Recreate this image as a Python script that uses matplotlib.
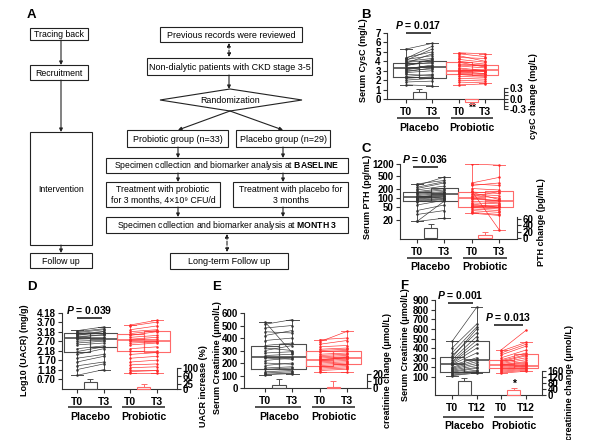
import matplotlib.pyplot as plt
from matplotlib import transforms
from matplotlib.patches import Rectangle, Polygon
from matplotlib.ticker import NullLocator, MultipleLocator

plt.rcParams['font.family'] = ['Liberation Sans', 'DejaVu Sans']
plt.rcParams['font.weight'] = 'bold'
plt.rcParams['mathtext.fontset'] = 'custom'
plt.rcParams['mathtext.rm'] = 'Liberation Sans'
plt.rcParams['mathtext.it'] = 'Liberation Sans:italic:bold'
plt.rcParams['mathtext.bf'] = 'Liberation Sans:bold'

# ---------------- data ----------------
groups = ['Placebo', 'Probiotic']

# B: serum CysC (mg/L)
cysc_placebo_t0 = [5.3, 4.4, 4.3, 4.2, 4.0, 3.9, 3.8, 3.6, 3.5, 3.3, 3.2, 3.1, 3.0, 2.8, 2.6, 2.4, 2.3, 2.2, 2.0, 1.8, 1.5, 4.1, 3.7, 2.9]
cysc_placebo_t3 = [5.9, 5.0, 5.6, 4.6, 4.3, 4.1, 4.8, 3.9, 4.2, 3.4, 3.6, 3.5, 3.2, 3.0, 2.5, 2.6, 2.3, 2.35, 2.2, 1.9, 1.4, 5.3, 3.8, 3.3]
cysc_probiotic_t0 = [4.9, 4.8, 4.6, 4.4, 4.2, 4.0, 3.9, 3.7, 3.5, 3.3, 3.1, 3.0, 2.95, 2.9, 2.8, 2.7, 2.6, 2.4, 2.2, 2.0, 1.8, 1.5, 3.6, 3.2]
cysc_probiotic_t3 = [4.8, 4.5, 4.0, 4.3, 3.9, 3.7, 3.4, 3.6, 3.3, 3.0, 3.1, 2.9, 3.0, 2.7, 2.7, 2.6, 2.4, 2.3, 2.1, 1.9, 1.7, 1.6, 3.5, 2.9]
cysc_box_lo = [1.5, 1.4, 1.5, 1.7]
cysc_box_q1 = [2.33, 2.19, 2.65, 2.5]
cysc_box_med = [3.25, 3.43, 2.97, 3.07]
cysc_box_q3 = [3.82, 4.06, 3.92, 3.6]
cysc_box_hi = [5.27, 5.97, 4.9, 4.8]
cysc_change = [0.2, -0.1]
cysc_change_sem = [0.07, 0.07]

# C: serum PTH (pg/mL)
pth_placebo_t0 = [280, 250, 200, 180, 160, 150, 140, 130, 120, 110, 105, 100, 95, 90, 85, 80, 75, 60, 40, 30, 18, 18, 220, 115]
pth_placebo_t3 = [360, 460, 300, 240, 200, 180, 160, 150, 140, 130, 125, 120, 115, 110, 100, 95, 90, 85, 60, 40, 80, 23, 330, 100]
pth_probiotic_t0 = [1200, 300, 280, 250, 200, 170, 155, 150, 130, 120, 100, 90, 80, 70, 60, 55, 52, 50, 45, 40, 35, 33, 110, 65]
pth_probiotic_t3 = [1100, 450, 250, 300, 180, 10, 140, 90, 120, 100, 80, 85, 70, 65, 60, 50, 55, 45, 40, 35, 30, 28, 160, 50]
pth_box_lo = [18, 23, 33, 10]
pth_box_q1 = [80, 80, 52, 52]
pth_box_med = [107, 133, 100, 80]
pth_box_q3 = [155, 210, 155, 165]
pth_box_hi = [280, 460, 1200, 1100]
pth_change = [32, 8]
pth_change_sem = [12, 11]

# D: log10 UACR (mg/g)
uacr_placebo_t0 = [3.25, 3.2, 3.15, 3.1, 3.05, 3.0, 2.95, 2.9, 2.85, 2.8, 2.7, 2.6, 2.5, 2.3, 2.15, 2.0, 1.8, 1.6, 1.4, 1.2, 0.9]
uacr_placebo_t3 = [3.45, 3.35, 3.3, 3.2, 3.1, 3.2, 3.0, 3.05, 2.9, 2.85, 2.75, 2.7, 2.6, 2.45, 2.4, 2.3, 2.0, 1.9, 1.6, 1.5, 1.2]
uacr_probiotic_t0 = [3.55, 3.5, 3.3, 3.2, 3.1, 3.0, 2.9, 2.8, 2.75, 2.7, 2.6, 2.5, 2.3, 2.2, 2.0, 1.8, 1.6, 1.45, 1.3, 1.2, 1.1, 1.0]
uacr_probiotic_t3 = [3.8, 3.7, 3.5, 3.3, 3.25, 3.2, 3.0, 2.9, 2.8, 2.7, 2.65, 2.6, 2.4, 2.2, 2.1, 1.9, 1.7, 1.5, 1.35, 1.2, 1.15, 1.0]
uacr_box_lo = [0.91, 1.17, 1.0, 1.0]
uacr_box_q1 = [2.12, 2.39, 2.18, 2.12]
uacr_box_med = [2.86, 2.81, 2.75, 2.71]
uacr_box_q3 = [3.12, 3.12, 3.1, 3.23]
uacr_box_hi = [3.3, 3.44, 3.55, 3.81]
uacr_change = [33, 10]
uacr_change_sem = [15, 14]

# E: serum creatinine (umol/L), T0 vs T3
scr_placebo_t0 = [528, 510, 480, 450, 420, 380, 340, 320, 300, 280, 260, 250, 240, 220, 200, 180, 160, 150, 130, 120, 110, 107]
scr_placebo_t3 = [280, 547, 500, 440, 460, 400, 360, 300, 340, 290, 270, 250, 230, 240, 190, 200, 170, 160, 140, 130, 120, 115]
scr_probiotic_t0 = [387, 370, 350, 330, 310, 300, 290, 270, 260, 250, 240, 230, 225, 220, 210, 200, 190, 180, 170, 160, 150, 140, 128]
scr_probiotic_t3 = [400, 453, 380, 340, 320, 310, 300, 280, 270, 260, 250, 240, 245, 230, 220, 210, 200, 190, 180, 170, 160, 150, 128]
scr_box_lo = [107, 115, 128, 128]
scr_box_q1 = [150, 155, 180, 190]
scr_box_med = [250, 250, 225, 240]
scr_box_q3 = [335, 350, 300, 295]
scr_box_hi = [528, 547, 387, 453]
scr_change = [4, 2]
scr_change_sem = [9, 8]

# F: serum creatinine (umol/L), T0 vs T12
scr12_placebo_t0 = [469, 400, 350, 320, 300, 280, 260, 250, 240, 230, 220, 200, 190, 180, 170, 160, 150, 140, 130, 120, 114]
scr12_placebo_t12 = [824, 650, 620, 560, 600, 520, 480, 440, 400, 350, 300, 280, 260, 240, 220, 200, 190, 170, 160, 150, 141]
scr12_probiotic_t0 = [383, 370, 350, 330, 300, 280, 270, 260, 250, 240, 230, 225, 220, 210, 200, 190, 180, 170, 160, 150, 141]
scr12_probiotic_t12 = [585, 459, 440, 420, 380, 350, 330, 320, 300, 280, 260, 250, 240, 230, 220, 210, 200, 190, 180, 170, 159]
scr12_box_lo = [114, 141, 141, 159]
scr12_box_q1 = [155, 155, 193, 193]
scr12_box_med = [238, 279, 228, 217]
scr12_box_q3 = [303, 469, 279, 338]
scr12_box_hi = [469, 824, 383, 459]
scr12_change = [95, 36]
scr12_change_sem = [18, 11]

BLACK_LINE = '#333333'
BLACK_BOX = '#4d4d4d'
RED_LINE = '#ff2a2a'
RED_BOX = '#ff6a6a'
AXC = '#333333'

W, H = 600, 440
fig = plt.figure(figsize=(6, 4.4), dpi=100)
ov = fig.add_axes([0, 0, 1, 1])
ov.set_xlim(0, W)
ov.set_ylim(H, 0)
ov.axis('off')


def rect_px(x0, x1, ytop, ybot):
    return [x0 / W, 1 - ybot / H, (x1 - x0) / W, (ybot - ytop) / H]


# ---------------- A: flowchart ----------------
def fbox(x0, y0, x1, y1, text, size=6.3):
    ov.add_patch(Rectangle((x0, y0), x1 - x0, y1 - y0, fill=False, lw=0.8, ec='#222222'))
    ov.text((x0 + x1) / 2, (y0 + y1) / 2 + 0.5, text, ha='center', va='center',
            fontsize=size, fontweight='normal', linespacing=1.15)


def farrow(x0, y0, x1, y1, dashed=False):
    style = '<|-|>' if dashed else '-|>'
    ov.annotate('', xy=(x1, y1), xytext=(x0, y0),
                arrowprops=dict(arrowstyle=style, lw=0.8, color='#222222',
                                linestyle='--' if dashed else '-',
                                mutation_scale=5, shrinkA=0, shrinkB=0))


fbox(30, 28, 88, 40, 'Tracing back')
fbox(30, 65, 88, 80, 'Recruitment')
fbox(30, 132, 92, 245, 'Intervention')
fbox(30, 253, 92, 268, 'Follow up')
farrow(61, 40, 61, 65)
farrow(61, 80, 61, 132)
farrow(61, 245, 61, 253)

fbox(160, 27, 302, 42, 'Previous records were reviewed', 6.5)
farrow(229, 43, 229, 57, dashed=True)
fbox(147, 58, 312, 75, 'Non-dialytic patients with CKD stage 3-5', 6.5)
farrow(229, 75, 229, 89)
ov.add_patch(Polygon([(160, 100), (230, 89), (302, 100), (230, 111)], closed=True,
                     fill=False, lw=0.8, ec='#222222'))
ov.text(230, 100.5, 'Randomization', ha='center', va='center', fontsize=6.4, fontweight='normal')
farrow(230, 111, 178, 130)
farrow(230, 111, 283, 130)
fbox(127, 130, 228, 147, 'Probiotic group (n=33)', 6.5)
fbox(236, 130, 330, 147, 'Placebo group (n=29)', 6.5)
farrow(178, 147, 178, 158)
farrow(283, 147, 283, 158)
fbox(106, 158, 348, 173, r'Specimen collection and biomarker analysis at $\mathbf{BASELINE}$', 6.2)
farrow(178, 173, 178, 182)
farrow(283, 173, 283, 182)
fbox(106, 182, 220, 207, 'Treatment with probiotic\nfor 3 months, 4×10⁹ CFU/d')
fbox(233, 182, 348, 207, 'Treatment with placebo for\n3 months')
farrow(178, 207, 178, 217)
farrow(283, 207, 283, 217)
fbox(106, 217, 348, 233, r'Specimen collection and biomarker analysis at $\mathbf{MONTH\ 3}$', 6.2)
farrow(227, 234, 227, 252, dashed=True)
fbox(170, 253, 288, 269, 'Long-term Follow up', 6.5)


# ---------------- panels B-F ----------------
def draw_panel(px, xlim, ylim, yticks, ytick_labels, pairs, box, tlabel,
               change_px, change_ylim, change_ticks, change, change_sem,
               under_y, group_y, log=False):
    ax = fig.add_axes(rect_px(*px))
    ax.patch.set_visible(False)
    if log:
        ax.set_yscale('log')
    ax.set_xlim(*xlim)
    ax.set_ylim(*ylim)
    pos = [0, 1, 2, 3]

    lo, q1, med, q3, hi = box
    stats = [dict(med=med[i], q1=q1[i], q3=q3[i], whislo=lo[i], whishi=hi[i]) for i in range(4)]
    bp = ax.bxp(stats, positions=pos, widths=1.0, showfliers=False, capwidths=0.45,
                manage_ticks=False)
    for i in range(4):
        c = BLACK_BOX if i < 2 else RED_BOX
        bp['boxes'][i].set(color=c, lw=0.8)
        bp['medians'][i].set(color=c, lw=1.2)
        for j in (2 * i, 2 * i + 1):
            bp['whiskers'][j].set(color=c, lw=0.7)
            bp['caps'][j].set(color=c, lw=0.7)

    (p0, p1), (r0, r1) = pairs
    for a, b in zip(p0, p1):
        ax.plot([0, 1], [a, b], color=BLACK_LINE, lw=0.45, marker='.', ms=1.6, zorder=3)
    for a, b in zip(r0, r1):
        ax.plot([2, 3], [a, b], color=RED_LINE, lw=0.45, marker='.', ms=1.6, zorder=3)

    ax.set_yticks(yticks)
    ax.set_yticklabels(ytick_labels)
    ax.yaxis.set_minor_locator(NullLocator())
    ax.set_xticks(pos)
    ax.set_xticklabels(['T0', tlabel, 'T0', tlabel], fontsize=7.5)
    ax.tick_params(axis='both', length=3, width=0.8, color=AXC, labelsize=7, pad=1.5)
    ax.tick_params(axis='x', pad=3, labelsize=7.5)
    for s in ('top', 'right'):
        ax.spines[s].set_visible(False)
    for s in ('left', 'bottom'):
        ax.spines[s].set_color(AXC)
        ax.spines[s].set_linewidth(0.8)

    # inset change axis on the right
    cax = fig.add_axes(rect_px(px[0], px[1], change_px[0], change_px[1]))
    cax.patch.set_visible(False)
    cax.set_xlim(*xlim)
    cax.set_ylim(*change_ylim)
    for s in ('top', 'left', 'bottom'):
        cax.spines[s].set_visible(False)
    cax.spines['right'].set_color(AXC)
    cax.spines['right'].set_linewidth(0.8)
    cax.set_xticks([])
    cax.yaxis.tick_right()
    cax.set_yticks(change_ticks)
    cax.tick_params(axis='y', length=3, width=0.8, color=AXC, labelsize=7, pad=1)
    lower = [e if m < 0 else 0 for m, e in zip(change, change_sem)]
    upper = [0 if m < 0 else e for m, e in zip(change, change_sem)]
    cax.bar([0.5, 2.5], change, width=0.5, fill=False, edgecolor=[BLACK_BOX, RED_BOX],
            lw=0.8, clip_on=False)
    cax.errorbar([0.5], [change[0]], yerr=[[lower[0]], [upper[0]]], fmt='none',
                 ecolor=BLACK_BOX, elinewidth=0.7, capsize=2, capthick=0.7, clip_on=False)
    cax.errorbar([2.5], [change[1]], yerr=[[lower[1]], [upper[1]]], fmt='none',
                 ecolor=RED_BOX, elinewidth=0.7, capsize=2, capthick=0.7, clip_on=False)

    # group underline and names below the axis
    trans = transforms.blended_transform_factory(ax.transData, ov.transData)
    ov.plot([-0.35, 1.3], [under_y, under_y], color='#444444', lw=1.3, transform=trans,
            solid_capstyle='butt')
    ov.plot([1.7, 3.3], [under_y, under_y], color='#444444', lw=1.3, transform=trans,
            solid_capstyle='butt')
    ov.text(0.5, group_y, groups[0], transform=trans, ha='center', va='center', fontsize=7.5)
    ov.text(2.5, group_y, groups[1], transform=trans, ha='center', va='center', fontsize=7.5)
    return ax, cax, trans


def pbar(ax, x0, x1, y, text):
    ax.plot([x0, x1], [y, y], color='#222222', lw=1.2, clip_on=False, solid_capstyle='butt')
    ax.annotate(text, xy=((x0 + x1) / 2, y), xytext=(0, 1.2), textcoords='offset points',
                ha='center', va='bottom', fontsize=7.5, annotation_clip=False)


# B
axB, caxB, trB = draw_panel((387, 504, 33, 99), (-0.72, 3.72), (0, 7), range(8),
                            [str(v) for v in range(8)],
                            ((cysc_placebo_t0, cysc_placebo_t3), (cysc_probiotic_t0, cysc_probiotic_t3)),
                            (cysc_box_lo, cysc_box_q1, cysc_box_med, cysc_box_q3, cysc_box_hi), 'T3',
                            (88, 109), (-0.3, 0.3), [-0.3, 0.0, 0.3], cysc_change, cysc_change_sem,
                            118, 128)
caxB.set_yticklabels(['-0.3', '0.0', '0.3'])
caxB.yaxis.set_minor_locator(MultipleLocator(0.1))
caxB.tick_params(axis='y', which='minor', length=3, width=0.8, color=AXC)
pbar(axB, 0, 0.95, 7, r'$P$ = 0.017')
ov.text(2.5, 108, '**', transform=trB, ha='center', va='center', fontsize=7.5)

# C
axC, caxC, trC = draw_panel((400, 517, 164, 239), (-0.62, 3.66), (5, 1200),
                            [20, 50, 100, 200, 500, 1200], ['20', '50', '100', '200', '500', '1200'],
                            ((pth_placebo_t0, pth_placebo_t3), (pth_probiotic_t0, pth_probiotic_t3)),
                            (pth_box_lo, pth_box_q1, pth_box_med, pth_box_q3, pth_box_hi), 'T3',
                            (217.4, 238), (0, 65), [0, 20, 40, 60], pth_change, pth_change_sem,
                            258, 267, log=True)
pbar(axC, -0.15, 0.77, 960, r'$P$ = 0.036')

# D
uacr_ticks = [0.70, 1.18, 1.70, 2.18, 2.70, 3.18, 3.70, 4.18]
axD, caxD, trD = draw_panel((62, 177, 313, 389), (-0.56, 3.75), (0.18, 4.18), uacr_ticks,
                            ['%.2f' % v for v in uacr_ticks],
                            ((uacr_placebo_t0, uacr_placebo_t3), (uacr_probiotic_t0, uacr_probiotic_t3)),
                            (uacr_box_lo, uacr_box_q1, uacr_box_med, uacr_box_q3, uacr_box_hi), 'T3',
                            (368, 389), (0, 100), [0, 25, 60, 100], uacr_change, uacr_change_sem,
                            407, 417)
pbar(axD, 0, 0.93, 3.92, r'$P$ = 0.039')

# E
axE, caxE, trE = draw_panel((244, 367, 313, 388), (-0.77, 3.73), (0, 600), range(0, 601, 100),
                            [str(v) for v in range(0, 601, 100)],
                            ((scr_placebo_t0, scr_placebo_t3), (scr_probiotic_t0, scr_probiotic_t3)),
                            (scr_box_lo, scr_box_q1, scr_box_med, scr_box_q3, scr_box_hi), 'T3',
                            (374, 388), (0, 20), [0, 10, 20], scr_change, scr_change_sem,
                            407, 417)

# F
axF, caxF, trF = draw_panel((435, 542, 300, 395), (-0.69, 3.65), (-87, 900), range(100, 901, 100),
                            [str(v) for v in range(100, 901, 100)],
                            ((scr12_placebo_t0, scr12_placebo_t12), (scr12_probiotic_t0, scr12_probiotic_t12)),
                            (scr12_box_lo, scr12_box_q1, scr12_box_med, scr12_box_q3, scr12_box_hi), 'T12',
                            (371, 395), (0, 160), [0, 40, 80, 120, 160], scr12_change, scr12_change_sem,
                            417, 426)
pbar(axF, -0.16, 0.85, 870, r'$P$ = 0.001')
pbar(axF, 1.7, 2.87, 642, r'$P$ = 0.013')
ov.text(2.5, 384, '*', transform=trF, ha='center', va='center', fontsize=7.5)

# axis titles (placed as in the figure)
ylabels = [
    (364, 60, 'Serum CysC (mg/L)'),
    (533, 96, 'cysC change (mg/L)'),
    (367, 197, 'Serum PTH (pg/mL)'),
    (542, 222, 'PTH change (pg/mL)'),
    (25, 350, 'Log10 (UACR) (mg/g)'),
    (204, 386, 'UACR increase (%)'),
    (218, 358, 'Serum Creatinine (μmol/L)'),
    (388, 371, 'creatinine change (μmol/L)'),
    (405, 345, 'Serum Creatinine (μmol/L)'),
    (570, 382, 'creatinine change (μmol/L)'),
]
for x, y, s in ylabels:
    ov.text(x, y, s, rotation=90, ha='center', va='center', fontsize=6.5)

for x, y, s in [(27, 15, 'A'), (361, 15, 'B'), (361, 149, 'C'),
                (27, 287, 'D'), (212, 287, 'E'), (400, 286, 'F')]:
    ov.text(x, y, s, ha='left', va='center', fontsize=9.5)

fig.savefig('out.png', dpi=100)
